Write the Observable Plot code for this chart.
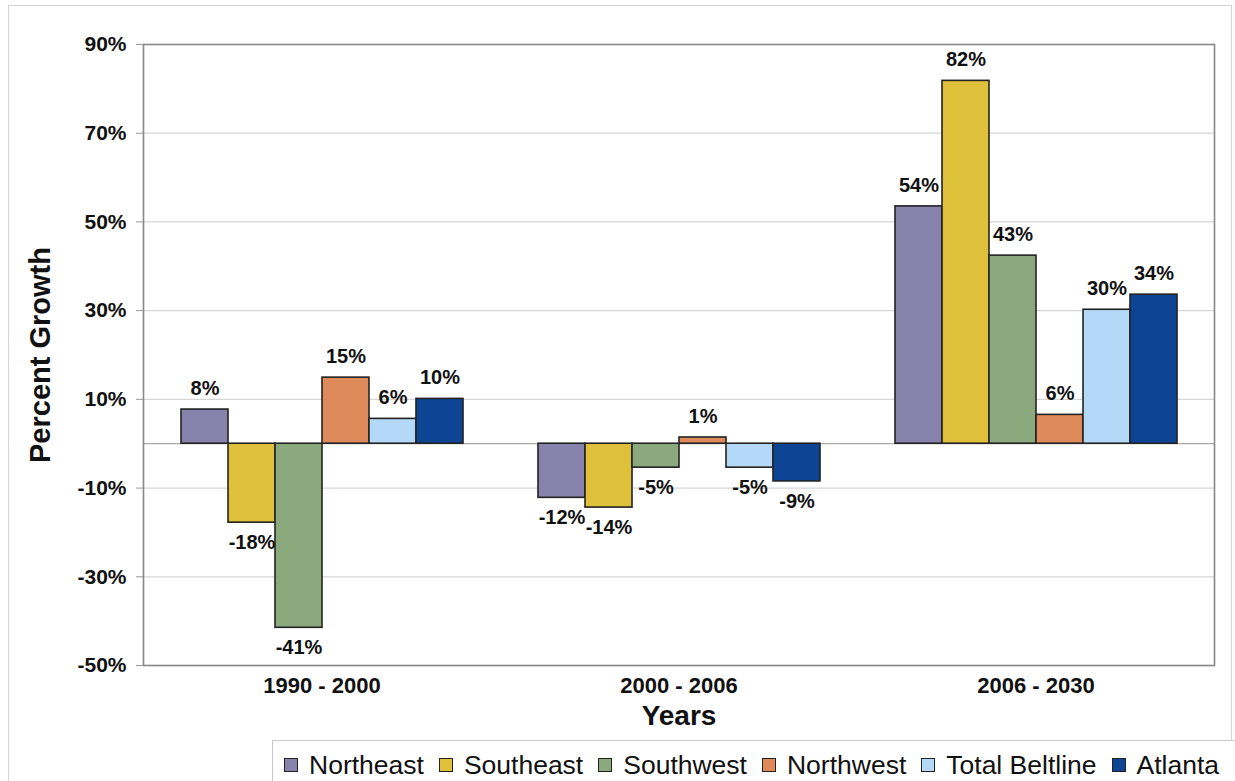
<!DOCTYPE html>
<html>
<head>
<meta charset="utf-8">
<script src="https://cdn.jsdelivr.net/npm/d3@7"></script>
<script src="https://cdn.jsdelivr.net/npm/@observablehq/plot@0.6"></script>
<style>
  html, body { margin: 0; padding: 0; background: #fff; }
  #wrap { position: relative; width: 1235px; height: 781px; overflow: hidden; font-family: "Liberation Sans", Arial, sans-serif; }
  #outer { position: absolute; left: 8px; top: 5px; width: 1224px; height: 790px; border: 1px solid #d4d4d4; box-sizing: border-box; }
  #chart { position: absolute; left: 0; top: 0; }
  #legend { position: absolute; left: 272px; top: 740px; width: 970px; height: 50px; border: 1px solid #c8c8c8; background: #fff; box-sizing: border-box; display: flex; align-items: flex-start; padding-left: 11px; padding-top: 9px; font-size: 26.5px; line-height: 30px; color: #111; white-space: nowrap; }
  .item { display: flex; align-items: center; margin-right: 15px; }
  .sw { width: 14px; height: 14px; border: 1.5px solid #222; margin-right: 11px; box-sizing: border-box; }
</style>
</head>
<body>
<div id="wrap">
  <div id="outer"></div>
  <div id="chart"></div>
  <div id="legend"></div>
</div>
<script>
const periods = ["1990 - 2000", "2000 - 2006", "2006 - 2030"];
const regions = ["Northeast", "Southeast", "Southwest", "Northwest", "Total Beltline", "Atlanta"];
const colors = ["#8883ad", "#dfc03a", "#8aa97d", "#de8a5a", "#b4d8f8", "#0d4594"];
// values per region across the three periods (percent growth)
const northeast = [7.7, -12.2, 53.5];
const southeast = [-17.8, -14.4, 81.8];
const southwest = [-41.5, -5.4, 42.4];
const northwest = [14.9, 1.4, 6.5];
const beltline = [5.6, -5.4, 30.2];
const atlanta = [10.1, -8.5, 33.6];
// printed labels
const northeastLabels = ["8%", "-12%", "54%"];
const southeastLabels = ["-18%", "-14%", "82%"];
const southwestLabels = ["-41%", "-5%", "43%"];
const northwestLabels = ["15%", "1%", "6%"];
const beltlineLabels = ["6%", "-5%", "30%"];
const atlantaLabels = ["10%", "-9%", "34%"];
const yTicks = [-50, -30, -10, 10, 30, 50, 70, 90];

const series = [northeast, southeast, southwest, northwest, beltline, atlanta];
const seriesLabels = [northeastLabels, southeastLabels, southwestLabels, northwestLabels, beltlineLabels, atlantaLabels];
const data = [];
regions.forEach((r, i) => periods.forEach((p, j) => data.push({region: r, period: p, value: series[i][j], label: seriesLabels[i][j]})));

const font = "'Liberation Sans', Arial, sans-serif";
const chart = Plot.plot({
  width: 1235,
  height: 740,
  marginLeft: 143,
  marginRight: 21,
  marginTop: 44,
  marginBottom: 75,
  style: {fontFamily: font, background: "transparent", color: "#111", overflow: "visible"},
  fx: {domain: periods, padding: 0, label: null},
  x: {domain: regions, paddingInner: 0, paddingOuter: 0.745, axis: null},
  y: {domain: [-50, 90], label: null},
  color: {domain: regions, range: colors},
  marks: [
    Plot.gridY(yTicks, {stroke: "#d6d6d6", strokeOpacity: 1, strokeWidth: 1.2}),
    Plot.ruleY([0], {stroke: "#aaa", strokeWidth: 1.2}),
    Plot.axisY(yTicks, {tickFormat: d => d + "%", fontSize: 21, fontWeight: "bold", tickSize: 7, tickPadding: 10, stroke: "#999", fill: "#111", label: null}),
    Plot.axisFx({anchor: "bottom", fontSize: 22, fontWeight: "bold", tickSize: 0, tickPadding: 12, label: null, fill: "#111"}),
    Plot.barY(data, {fx: "period", x: "region", y: "value", fill: "region", stroke: "#222", strokeWidth: 1.6}),
    Plot.text(data, {filter: d => d.value >= 0, fx: "period", x: "region", y: "value", text: "label", dy: -21, fontSize: 20, fontWeight: "bold", fill: "#111"}),
    Plot.text(data, {filter: d => d.value < 0, fx: "period", x: "region", y: "value", text: "label", dy: 20, fontSize: 20, fontWeight: "bold", fill: "#111"}),
    Plot.frame({stroke: "#888", strokeWidth: 1.6, facet: "super"}),
    Plot.text(["Percent Growth"], {frameAnchor: "left", textAnchor: "middle", lineAnchor: "middle", rotate: -90, dx: -103, fontSize: 29, fontWeight: "bold", fill: "#111", facet: "super"}),
    Plot.text(["Years"], {frameAnchor: "bottom", lineAnchor: "middle", dy: 51, fontSize: 28, fontWeight: "bold", fill: "#111", facet: "super"})
  ]
});
document.getElementById("chart").appendChild(chart);

const legend = document.getElementById("legend");
regions.forEach((r, i) => {
  const it = document.createElement("div");
  it.className = "item";
  const sw = document.createElement("div");
  sw.className = "sw";
  sw.style.background = colors[i];
  const tx = document.createElement("span");
  tx.textContent = r;
  it.appendChild(sw);
  it.appendChild(tx);
  legend.appendChild(it);
});
</script>
</body>
</html>
